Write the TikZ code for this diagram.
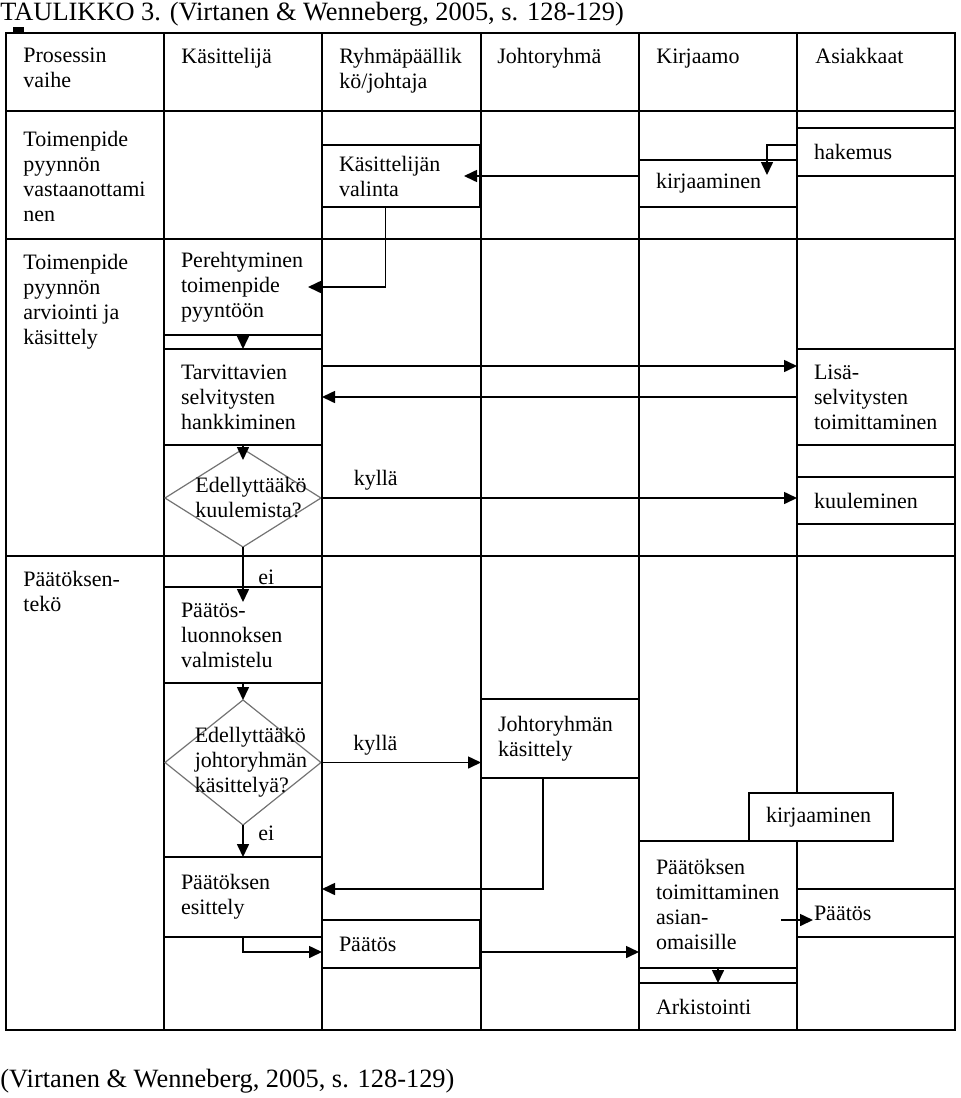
\documentclass[tikz,border=0pt]{standalone}
\usepackage{fontspec}
\setmainfont{Liberation Serif}
\usetikzlibrary{arrows.meta,shapes.geometric,positioning}
\begin{document}
\begin{tikzpicture}[x=0.5pt,y=-0.5pt,every node/.style={font=\fontsize{11}{12.5}\selectfont},
  grid/.style={line width=1pt},
  box/.style={draw,line width=0.75pt,outer sep=0pt,anchor=north west,align=left,inner xsep=8.5pt,inner ysep=0pt,text width=62pt,minimum width=79pt},
  head/.style={anchor=north west,inner sep=0pt,align=left},
  query/.style={draw=black!55,line width=0.6pt,outer sep=0pt,diamond,align=left,inner xsep=-22pt,inner ysep=0pt,shape aspect=1.4,minimum width=78pt},
  flow/.style={-{Triangle[length=6.5pt,width=6pt]},line width=0.8pt},
  cite/.style={anchor=base west,inner sep=0pt,font=\fontsize{13.2}{15}\selectfont}]
\useasboundingbox (0,0) rectangle (960,1098);
\node[cite] (title) at (0,20) {TAULIKKO 3. (Virtanen \& Wenneberg, 2005, s. 128-129)};
\fill (13,27) rectangle (24,33);
\draw[grid] (6,33) rectangle (955,1030);
\foreach \x in {164,322,481,639,797} \draw[grid] (\x,33) -- (\x,1030);
\foreach \y in {111,239,556} \draw[grid] (6,\y) -- (955,\y);
\node[head] (hvaihe) at (23,48) {Prosessin\\vaihe};
\node[head] (hkas) at (181,48) {Käsittelijä};
\node[head] (hryhma) at (339,48) {Ryhmäpäällik\\kö/johtaja};
\node[head] (hjohto) at (497,48) {Johtoryhmä};
\node[head] (hkirj) at (656,49) {Kirjaamo};
\node[head] (hasiak) at (815,48) {Asiakkaat};
\node[head] (vaihe1) at (23,131) {Toimenpide\\pyynnön\\vastaanottami\\nen};
\node[head] (vaihe2) at (23,254) {Toimenpide\\pyynnön\\arviointi ja\\käsittely};
\node[head] (vaihe3) at (23,571) {Päätöksen-\\tekö};
\node[box,minimum height=31pt] (valinta) at (322,145) {Käsittelijän\\valinta};
\node[box,minimum height=23.5pt] (kirj1) at (639,160) {kirjaaminen};
\node[box,minimum height=24pt] (hakemus) at (797,128) {hakemus};
\node[box,minimum height=48pt] (pereh) at (164,239) {Perehtyminen\\toimenpide\\pyyntöön};
\node[box,minimum height=48pt] (tarv) at (164,349) {Tarvittavien\\selvitysten\\hankkiminen};
\node[box,minimum height=48pt] (lisa) at (797,349) {Lisä-\\selvitysten\\toimittaminen};
\node[box,minimum height=23.5pt] (kuul) at (797,477) {kuuleminen};
\node[query,minimum height=49pt] (q1) at (243,498) {\hspace*{8pt}Edellyttääkö\\\hspace*{8pt}kuulemista?};
\node[box,minimum height=48pt] (luonnos) at (164,587) {Päätös-\\luonnoksen\\valmistelu};
\node[query,minimum height=62.5pt] (q2) at (243,762.5) {\hspace*{8pt}Edellyttääkö\\\hspace*{8pt}johtoryhmän\\\hspace*{8pt}käsittelyä?};
\node[box,minimum height=39.5pt] (jrkas) at (481,699) {Johtoryhmän\\käsittely};
\node[box,fill=white,minimum height=24pt,minimum width=72pt,text width=55pt] (kirj2) at (749,793) {kirjaaminen};
\node[box,minimum height=40pt] (esittely) at (164,857) {Päätöksen\\esittely};
\node[box,minimum height=24pt] (paatos1) at (322,920) {Päätös};
\node[box,minimum height=63.5pt] (toim) at (639,841) {Päätöksen\\toimittaminen\\asian-\\omaisille};
\node[box,minimum height=24pt] (paatos2) at (797,889) {Päätös};
\node[box,minimum height=23.5pt] (arkisto) at (639,983) {Arkistointi};
\draw[flow] ([yshift=3.5pt]hakemus.west) -| ([xshift=-15pt,yshift=-7.5pt]kirj1.north east);
\draw[flow] (kirj1.west |- valinta.east) -- ([xshift=-8pt]valinta.east);
\draw[flow] ([xshift=-7.75pt]valinta.south) |- ([xshift=-7pt]pereh.east);
\draw[flow] (pereh.south) -- (tarv.north);
\draw[flow] (tarv.south) -- ([yshift=-5.5pt]q1.north);
\draw[flow] ([yshift=15.5pt]tarv.east) -- ([yshift=15.5pt]lisa.west);
\draw[flow] (lisa.west) -- (tarv.east);
\draw[flow] (q1.east) -- (q1.east -| kuul.west) node[pos=0.115,above] (kylla1) {kyllä};
\draw[flow] (q1.south) -- ([yshift=-7.5pt]luonnos.north) node[pos=0.55,right=4pt] (ei1) {ei};
\draw[flow] (luonnos.south) -- (q2.north);
\draw[flow] (q2.east) -- (q2.east -| jrkas.west) node[pos=0.34,above] (kylla2) {kyllä};
\draw[flow] (q2.south) -- (esittely.north) node[pos=0.25,right=4pt] (ei2) {ei};
\draw[flow] (esittely.south) |- ([yshift=-4pt]paatos1.west);
\draw[flow] ([xshift=-8.5pt]jrkas.south) |- ([yshift=4pt]esittely.east);
\draw[flow] ([yshift=-4pt]paatos1.east) -- ([yshift=-4pt]paatos1.east -| toim.west);
\draw[flow] (toim.south) -- (arkisto.north);
\draw[flow] ([xshift=-8pt,yshift=-7.75pt]toim.east) -- ([xshift=8pt,yshift=-3.5pt]paatos2.west);
\node[cite] (source) at (0,1087) {(Virtanen \& Wenneberg, 2005, s. 128-129)};
\end{tikzpicture}
\end{document}
